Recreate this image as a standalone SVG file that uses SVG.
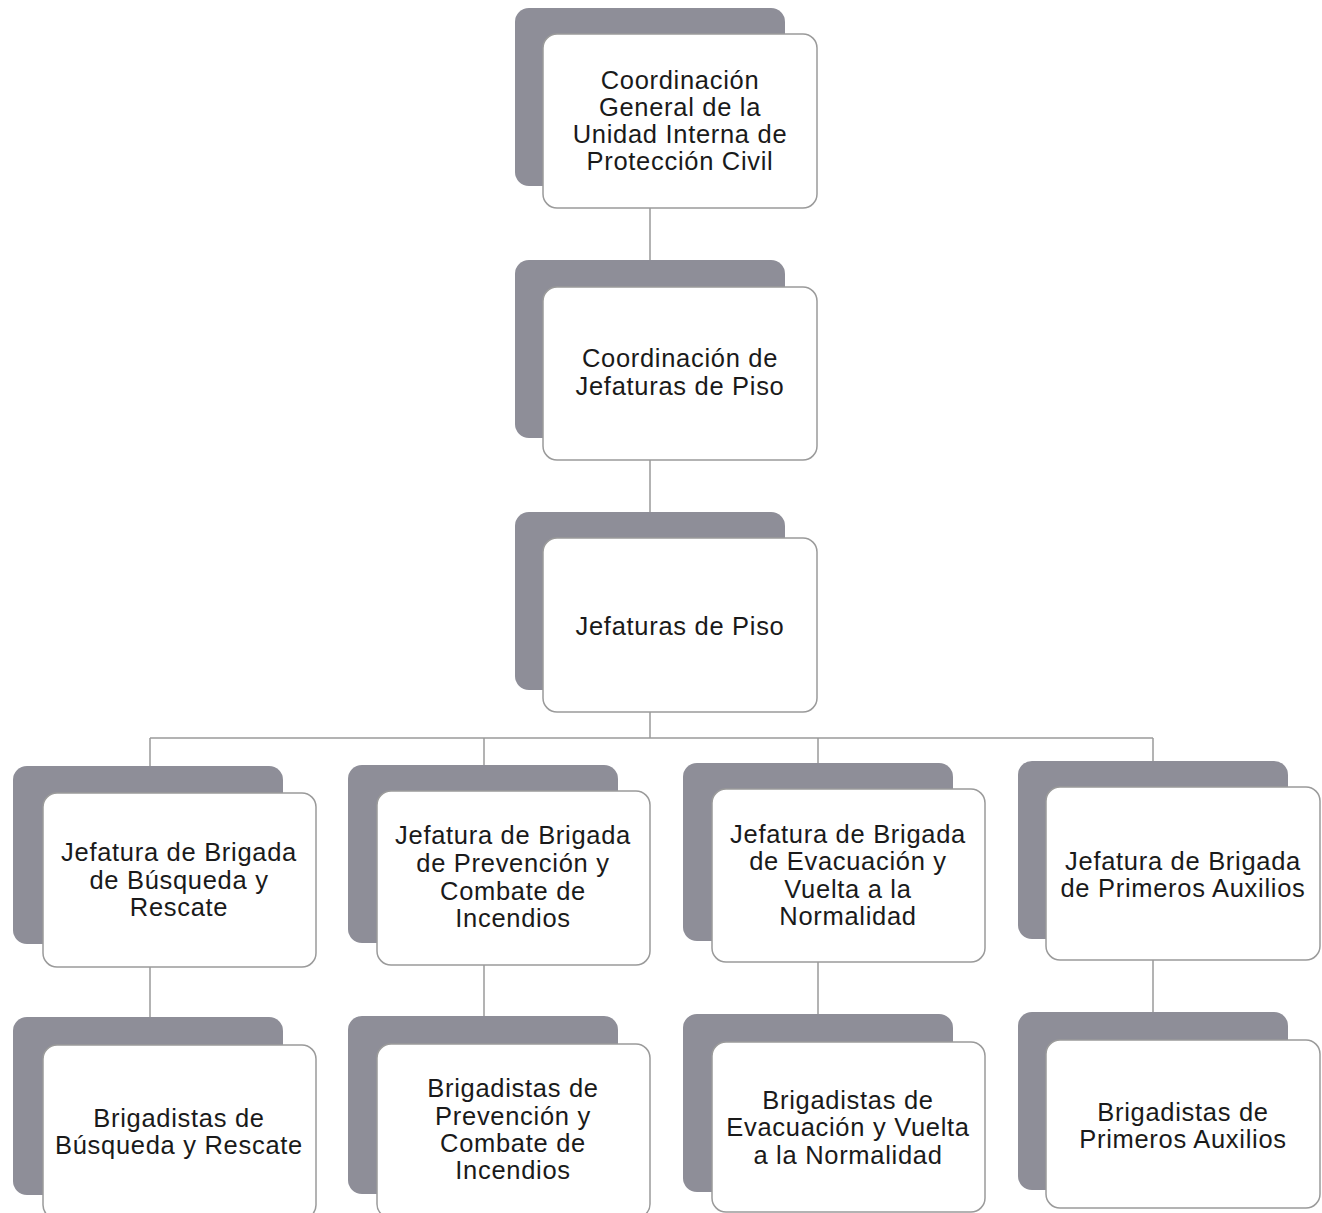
<svg xmlns="http://www.w3.org/2000/svg" width="1322" height="1213" viewBox="0 0 1322 1213">
<style>
.sh{fill:#8e8e98;stroke:none}
.fr{fill:#ffffff;stroke:#9a9a9a;stroke-width:1.5}
.t{font-family:"Liberation Sans",Arial,sans-serif;font-size:25.5px;letter-spacing:0.7px;fill:#1a1a1a;text-anchor:middle}
.c{stroke:#9a9a9a;stroke-width:1.5;fill:none}
</style>
<rect width="1322" height="1213" fill="#ffffff"/>
<g id="connectors">
<line class="c" x1="650" y1="208" x2="650" y2="260"/>
<line class="c" x1="650" y1="460" x2="650" y2="512"/>
<line class="c" x1="650" y1="712" x2="650" y2="738"/>
<line class="c" x1="150" y1="738" x2="1153" y2="738"/>
<line class="c" x1="150" y1="738" x2="150" y2="766"/>
<line class="c" x1="484" y1="738" x2="484" y2="765"/>
<line class="c" x1="818" y1="738" x2="818" y2="763"/>
<line class="c" x1="1153" y1="738" x2="1153" y2="761"/>
<line class="c" x1="150" y1="967" x2="150" y2="1017"/>
<line class="c" x1="484" y1="965" x2="484" y2="1016"/>
<line class="c" x1="818" y1="962" x2="818" y2="1014"/>
<line class="c" x1="1153" y1="960" x2="1153" y2="1012"/>
</g>
<g id="n1">
<rect class="sh" x="515" y="8" width="270" height="178" rx="14"/>
<rect class="fr" x="543" y="34" width="274" height="174" rx="14"/>
<text class="t"><tspan x="680" y="89">Coordinación</tspan><tspan x="680" y="116">General de la</tspan><tspan x="680" y="143">Unidad Interna de</tspan><tspan x="680" y="170">Protección Civil</tspan></text>
</g>
<g id="n2">
<rect class="sh" x="515" y="260" width="270" height="178" rx="14"/>
<rect class="fr" x="543" y="287" width="274" height="173" rx="14"/>
<text class="t"><tspan x="680" y="367">Coordinación de</tspan><tspan x="680" y="395">Jefaturas de Piso</tspan></text>
</g>
<g id="n3">
<rect class="sh" x="515" y="512" width="270" height="178" rx="14"/>
<rect class="fr" x="543" y="538" width="274" height="174" rx="14"/>
<text class="t"><tspan x="680" y="635">Jefaturas de Piso</tspan></text>
</g>
<g id="n4">
<rect class="sh" x="13" y="766" width="270" height="178" rx="14"/>
<rect class="fr" x="43" y="793" width="273" height="174" rx="14"/>
<text class="t"><tspan x="179" y="861">Jefatura de Brigada</tspan><tspan x="179" y="889">de Búsqueda y</tspan><tspan x="179" y="916">Rescate</tspan></text>
</g>
<g id="n5">
<rect class="sh" x="348" y="765" width="270" height="178" rx="14"/>
<rect class="fr" x="377" y="791" width="273" height="174" rx="14"/>
<text class="t"><tspan x="513" y="844">Jefatura de Brigada</tspan><tspan x="513" y="872">de Prevención y</tspan><tspan x="513" y="900">Combate de</tspan><tspan x="513" y="927">Incendios</tspan></text>
</g>
<g id="n6">
<rect class="sh" x="683" y="763" width="270" height="178" rx="14"/>
<rect class="fr" x="712" y="789" width="273" height="173" rx="14"/>
<text class="t"><tspan x="848" y="843">Jefatura de Brigada</tspan><tspan x="848" y="870">de Evacuación y</tspan><tspan x="848" y="898">Vuelta a la</tspan><tspan x="848" y="925">Normalidad</tspan></text>
</g>
<g id="n7">
<rect class="sh" x="1018" y="761" width="270" height="178" rx="14"/>
<rect class="fr" x="1046" y="787" width="274" height="173" rx="14"/>
<text class="t"><tspan x="1183" y="870">Jefatura de Brigada</tspan><tspan x="1183" y="897">de Primeros Auxilios</tspan></text>
</g>
<g id="n8">
<rect class="sh" x="13" y="1017" width="270" height="178" rx="14"/>
<rect class="fr" x="43" y="1045" width="273" height="174" rx="14"/>
<text class="t"><tspan x="179" y="1127">Brigadistas de</tspan><tspan x="179" y="1154">Búsqueda y Rescate</tspan></text>
</g>
<g id="n9">
<rect class="sh" x="348" y="1016" width="270" height="178" rx="14"/>
<rect class="fr" x="377" y="1044" width="273" height="174" rx="14"/>
<text class="t"><tspan x="513" y="1097">Brigadistas de</tspan><tspan x="513" y="1125">Prevención y</tspan><tspan x="513" y="1152">Combate de</tspan><tspan x="513" y="1179">Incendios</tspan></text>
</g>
<g id="n10">
<rect class="sh" x="683" y="1014" width="270" height="178" rx="14"/>
<rect class="fr" x="712" y="1042" width="273" height="170" rx="14"/>
<text class="t"><tspan x="848" y="1109">Brigadistas de</tspan><tspan x="848" y="1136">Evacuación y Vuelta</tspan><tspan x="848" y="1164">a la Normalidad</tspan></text>
</g>
<g id="n11">
<rect class="sh" x="1018" y="1012" width="270" height="178" rx="14"/>
<rect class="fr" x="1046" y="1040" width="274" height="168" rx="14"/>
<text class="t"><tspan x="1183" y="1121">Brigadistas de</tspan><tspan x="1183" y="1148">Primeros Auxilios</tspan></text>
</g>
</svg>
